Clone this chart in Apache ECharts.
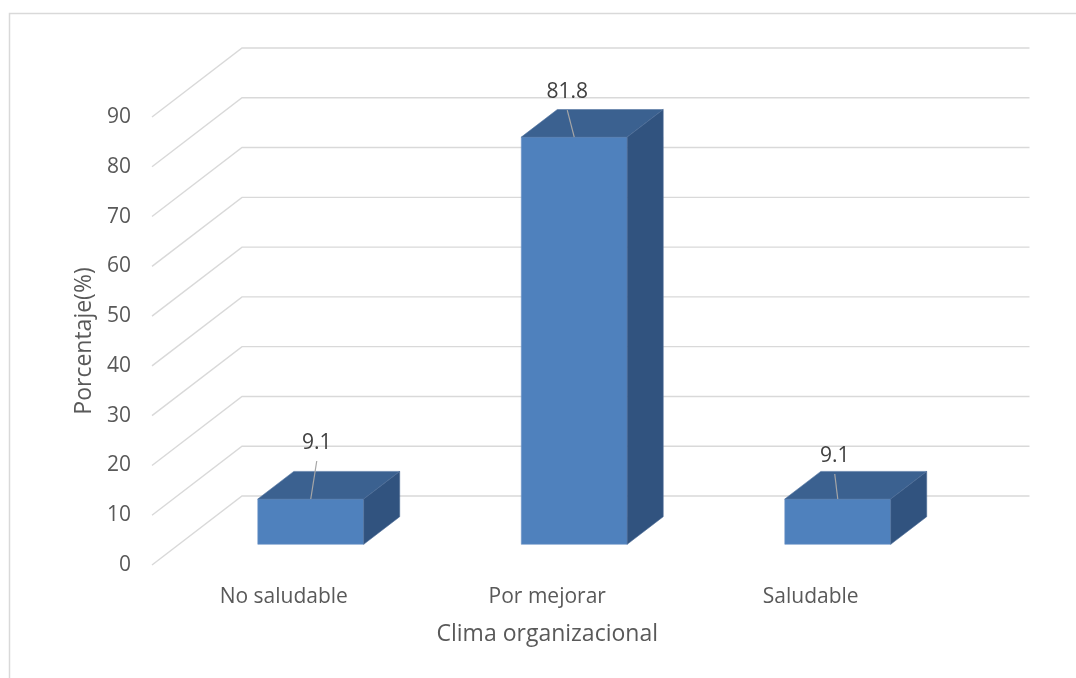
<!DOCTYPE html>
<html>
<head>
<meta charset="utf-8">
<script src="https://cdn.jsdelivr.net/npm/echarts@6/dist/echarts.min.js"></script>
<style>
  html, body { margin: 0; padding: 0; background: #ffffff; }
  #chart { width: 1076px; height: 678px; }
</style>
</head>
<body>
<div id="chart"></div>
<script>
// Data
const categories = ['No saludable', 'Por mejorar', 'Saludable'];
const percentages = [9.1, 81.8, 9.1];
const yTicks = [0, 10, 20, 30, 40, 50, 60, 70, 80, 90];

// Label placement relative to the top-front edge centre of each bar (px)
const labelOffsets = [[6, -56], [-7, -45], [-3, -43]];

// Oblique projection of the full floor depth, and bar position inside it
const DEPTH_X = 90, DEPTH_Y = -69;
const BAR_FRONT = 0.3, BAR_BACK = 0.7, BAR_WIDTH_RATIO = 0.402;

const FONT = '"Open Sans", "Noto Sans", sans-serif';
const GRID_COLOR = '#d9d9d9';
const FACE_FRONT = '#4f81bd', FACE_TOP = '#3b6190', FACE_SIDE = '#31537f';

// Back wall and side wall gridlines: a diagonal from the front plane to the
// back plane, then a horizontal along the back wall.
function renderGridLine(params, api) {
  const v = api.value(1);
  const c = api.coord([0, v]);
  const band = api.size([1, 0])[0];
  const left = c[0] - band / 2;
  const right = left + band * categories.length;
  return {
    type: 'polyline',
    silent: true,
    shape: { points: [[left, c[1]], [left + DEPTH_X, c[1] + DEPTH_Y], [right + DEPTH_X - 3, c[1] + DEPTH_Y]] },
    style: { stroke: GRID_COLOR, lineWidth: 1.4, fill: null }
  };
}

// 3D box for each category
function renderBar(params, api) {
  const i = api.value(0), v = api.value(1);
  const top = api.coord([i, v]);
  const base = api.coord([i, 0]);
  const w = api.size([1, 0])[0] * BAR_WIDTH_RATIO;
  const fx = BAR_FRONT * DEPTH_X, fy = BAR_FRONT * DEPTH_Y;
  const bx = BAR_BACK * DEPTH_X, by = BAR_BACK * DEPTH_Y;
  const L = top[0] - w / 2, R = top[0] + w / 2;
  const front = [[L + fx, top[1] + fy], [R + fx, top[1] + fy], [R + fx, base[1] + fy], [L + fx, base[1] + fy]];
  const topFace = [[L + fx, top[1] + fy], [L + bx, top[1] + by], [R + bx, top[1] + by], [R + fx, top[1] + fy]];
  const side = [[R + fx, top[1] + fy], [R + bx, top[1] + by], [R + bx, base[1] + by], [R + fx, base[1] + fy]];
  const ax = top[0] + fx, ay = top[1] + fy;
  const off = labelOffsets[params.dataIndex];
  const tx = ax + off[0], ty = ay + off[1];
  return {
    type: 'group',
    children: [
      { type: 'polygon', shape: { points: front }, style: { fill: FACE_FRONT, stroke: '#6f96c8', lineWidth: 0.6 } },
      { type: 'polygon', shape: { points: topFace }, style: { fill: FACE_TOP, stroke: '#5577a3', lineWidth: 0.6 } },
      { type: 'polygon', shape: { points: side }, style: { fill: FACE_SIDE, stroke: '#4a6a95', lineWidth: 0.6 } },
      { type: 'line', shape: { x1: tx, y1: ty + 18, x2: ax, y2: ay }, style: { stroke: '#a6a6a6', lineWidth: 1.2 } },
      {
        type: 'text', x: tx, y: ty,
        style: { text: v.toFixed(1), fill: '#404040', fontSize: 21, fontFamily: FONT, align: 'center', verticalAlign: 'middle' }
      }
    ]
  };
}

const chart = echarts.init(document.getElementById('chart'), null, { renderer: 'canvas' });
chart.setOption({
  backgroundColor: '#ffffff',
  animation: false,
  graphic: [{
    type: 'rect', silent: true, z: -10,
    shape: { x: 9.5, y: 13.5, width: 1100, height: 700 },
    style: { fill: null, stroke: '#d9d9d9', lineWidth: 1.5 }
  }],
  grid: { left: 152, top: 117, width: 790.5, height: 448 },
  xAxis: {
    type: 'category',
    data: categories,
    axisLine: { show: false },
    axisTick: { show: false },
    axisLabel: { color: '#595959', fontSize: 21, fontFamily: FONT, margin: 22 },
    name: 'Clima organizacional',
    nameLocation: 'middle',
    nameGap: 69,
    nameTextStyle: { color: '#595959', fontSize: 23, fontFamily: FONT, verticalAlign: 'middle' }
  },
  yAxis: {
    type: 'value',
    min: 0, max: 90, interval: 10,
    axisLine: { show: false },
    axisTick: { show: false },
    splitLine: { show: false },
    axisLabel: { color: '#595959', fontSize: 21, fontFamily: FONT, margin: 21 },
    name: 'Porcentaje(%)',
    nameLocation: 'middle',
    nameRotate: 90,
    nameGap: 68,
    nameTextStyle: { color: '#595959', fontSize: 23, fontFamily: FONT, verticalAlign: 'middle' }
  },
  series: [
    {
      type: 'custom',
      clip: false,
      silent: true,
      z: 1,
      data: yTicks.map(v => [0, v]),
      renderItem: renderGridLine
    },
    {
      type: 'custom',
      clip: false,
      z: 2,
      data: percentages.map((v, i) => [i, v]),
      renderItem: renderBar
    }
  ]
});
</script>
</body>
</html>
